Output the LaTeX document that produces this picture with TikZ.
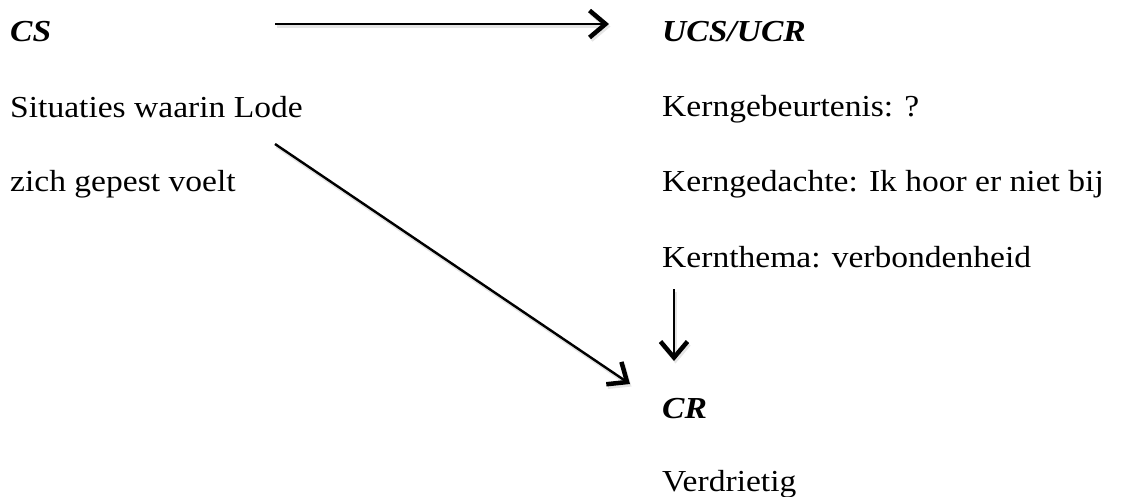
\documentclass[tikz,border=0pt]{standalone}
\usepackage{fontspec}
\setmainfont{Liberation Serif}[FakeStretch=1.1]
\usetikzlibrary{arrows.meta}

\tikzset{
  tekst/.style={anchor=base west, inner sep=0pt, font=\fontsize{30.5}{36}\selectfont},
  kop/.style={tekst, font=\fontsize{30.5}{36}\selectfont\bfseries\itshape},
  pijl/.style={-{Straight Barb[length=16pt,width=27pt,line width=4.5pt]}, line width=2.4pt, black,
    preaction={draw=black!10, line width=3pt, transform canvas={shift={(1.5pt,-2.5pt)}}}}
}

\begin{document}
\begin{tikzpicture}[x=1pt,y=1pt]
    \useasboundingbox (0,0) rectangle (1124,-497);

    % CS
    \node[kop] (cs) at (10,-42) {CS};
    \node[tekst] (situatie1) at (10,-118) {Situaties waarin Lode};
    \node[tekst] (situatie2) at (10,-192) {zich gepest voelt};

    % UCS/UCR
    \node[kop] (ucs) at (662,-42) {UCS/UCR};
    \node[tekst] (kern1) at (662,-117) {Kerngebeurtenis: ?};
    \node[tekst] (kern2) at (662,-192) {Kerngedachte: Ik hoor er niet bij};
    \node[tekst] (kern3) at (662,-267) {Kernthema: verbondenheid};

    % CR
    \node[kop] (cr) at (662,-418) {CR};
    \node[tekst] (verdriet) at (662,-491) {Verdrietig};

    % pijlen
    \coordinate (h1) at (275,-24);
    \coordinate (h2) at (609,-24);
    \coordinate (d1) at (275,-144);
    \coordinate (d2) at (630,-384);
    \coordinate (v1) at (674,-289);
    \coordinate (v2) at (674,-361);

    \draw[pijl] (h1) -- (h2);
    \draw[pijl] (d1) -- (d2);
    \draw[pijl] (v1) -- (v2);
\end{tikzpicture}
\end{document}
